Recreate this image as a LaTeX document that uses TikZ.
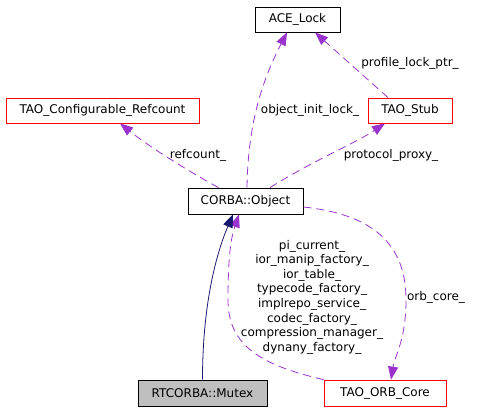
\documentclass[tikz,border=0pt]{standalone}
\usepackage{fontspec}
\setmainfont{DejaVu Sans}
\usetikzlibrary{arrows.meta}
\definecolor{edgepurple}{HTML}{9A32CD}
\definecolor{midnightblue}{HTML}{191970}
\definecolor{mutexgray}{HTML}{BFBFBF}

\begin{document}
\begin{tikzpicture}
[x=1pt,y=-1pt,
every node/.style={
  font=\fontsize{12}{14.6}\selectfont, inner sep=0pt
},
cls/.style={
  draw=black, line width=.8pt, minimum height=25pt, text centered
},
ext/.style={
  cls, draw=red
},
current/.style={
  cls, fill=mutexgray
},
uses/.style={
  edgepurple, line width=.8pt, dash pattern=on 8pt off 5pt,
  -{Triangle[length=13pt,width=10pt]}
},
inherit/.style={
  midnightblue, line width=.8pt,
  -{Triangle[length=13pt,width=10pt]}
},
edgelabel/.style={
  align=center
}
]
\useasboundingbox (0,0) rectangle (487,411);

% classes
\node[cls, minimum width=85pt] (acelock) at (297.5,19.5) {ACE\_Lock};
\node[ext, minimum width=84pt] (stub) at (410,110.5) {TAO\_Stub};
\node[ext, minimum width=193pt] (refcount) at (102.5,110.5) {TAO\_Configurable\_Refcount};
\node[cls, minimum width=115pt, minimum height=26pt] (object) at (245.5,201) {CORBA::Object};
\node[current, minimum width=129pt, minimum height=26pt] (mutex) at (202.5,393) {RTCORBA::Mutex};
\node[ext, minimum width=122pt, minimum height=26pt] (orbcore) at (385,393) {TAO\_ORB\_Core};

% edge labels
\node[edgelabel] (lockl) at (310,110) {object\_init\_lock\_};
\node[edgelabel] (profilel) at (410,63) {profile\_lock\_ptr\_};
\node[edgelabel] (proxyl) at (391,155) {protocol\_proxy\_};
\node[edgelabel] (refl) at (198,155) {refcount\_};
\node[edgelabel] (orbl) at (436,297) {orb\_core\_};
\node[edgelabel] (corel) at (312,297) {pi\_current\_\\ior\_manip\_factory\_\\ior\_table\_\\typecode\_factory\_\\implrepo\_service\_\\codec\_factory\_\\compression\_manager\_\\dynany\_factory\_};

% usage relations
\draw[uses] ([xshift=1.5pt]object.north) .. controls +(1,-70) and +(-22,43) .. ([xshift=-10.5pt]acelock.south);
\draw[uses] ([xshift=-22pt]stub.north) -- ([xshift=17.5pt]acelock.south);
\draw[uses] ([xshift=24.5pt]object.north) .. controls +(45,-28) and +(-30,20) .. ([xshift=-25pt]stub.south);
\draw[uses] ([xshift=-27pt]object.north) .. controls +(-40,-22) and +(25,20) .. ([xshift=17.5pt]refcount.south);
\draw[uses] ([yshift=-6pt]object.east) .. controls (380,215) and (406,250) .. (406,300)
  .. controls (406,340) and (395,355) .. ([xshift=6pt]orbcore.north);
\draw[uses] (orbcore.north west) .. controls (260,365) and (228,345) .. (228,300)
  .. controls (228,250) and (232,235) .. ([xshift=-6.5pt]object.south);

% inheritance
\draw[inherit] (mutex.north) .. controls +(0,-80) and +(-15,35) .. ([xshift=-12.5pt]object.south);

\end{tikzpicture}
\end{document}
